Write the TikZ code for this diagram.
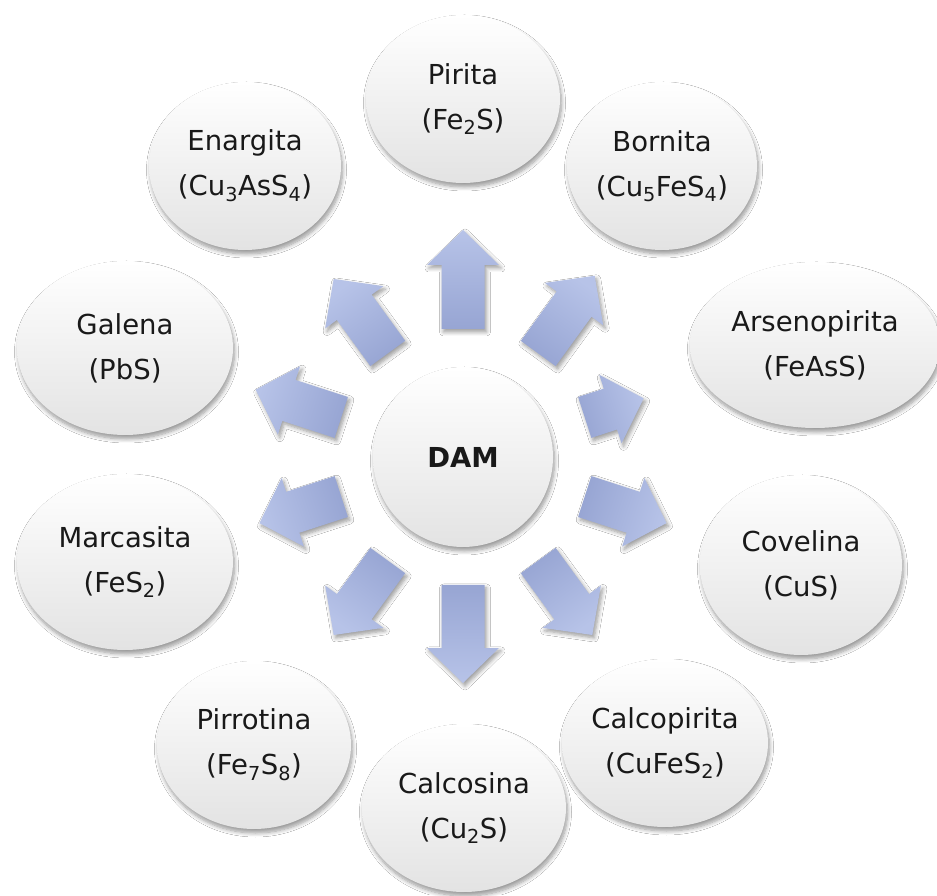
\documentclass[tikz,border=0pt]{standalone}
\usepackage{fontspec}
\setmainfont{DejaVu Sans}
\usetikzlibrary{shapes.geometric,shadows.blur,calc}
\definecolor{arrtop}{HTML}{B7C3E8}
\definecolor{arrbot}{HTML}{97A5D3}
\tikzset{
  x=1pt, y=1pt,
  mineral/.style={ellipse, inner sep=-14pt, align=center,
    font=\fontsize{27.5}{45}\selectfont, text=black!90,
    top color=white, middle color=white, bottom color=black!11,
    blur shadow={shadow xshift=1.5pt, shadow yshift=-4pt, shadow blur radius=4pt, shadow blur steps=8, shadow opacity=40}},
  arrowshape/.style={top color=arrtop, bottom color=arrbot,
    blur shadow={shadow xshift=2pt, shadow yshift=-3pt, shadow blur radius=4pt, shadow blur steps=6, shadow opacity=40}},
}
\begin{document}
\begin{tikzpicture}
\useasboundingbox (0,0) rectangle (937,895);
\fill[white] (0,0) rectangle (937,895);
% centre
\node[mineral, circle, minimum size=180pt, font=\fontsize{27.5}{33}\selectfont\bfseries] (dam) at (463,438) {DAM};
% outer minerals
\node[mineral, minimum width=194pt, minimum height=168pt] (pirita) at (463,796) {Pirita\\(Fe\textsubscript{2}S)};
\node[mineral, minimum width=190pt, minimum height=168pt] (bornita) at (662,729) {Bornita\\(Cu\textsubscript{5}FeS\textsubscript{4})};
\node[mineral, minimum width=250pt, minimum height=166pt] (arseno) at (815,550) {Arsenopirita\\(FeAsS)};
\node[mineral, minimum width=202pt, minimum height=180pt] (covelina) at (801,330) {Covelina\\(CuS)};
\node[mineral, minimum width=206pt, minimum height=168pt] (calcopirita) at (665,152) {Calcopirita\\(CuFeS\textsubscript{2})};
\node[mineral, minimum width=204pt, minimum height=168pt] (calcosina) at (464,87) {Calcosina\\(Cu\textsubscript{2}S)};
\node[mineral, minimum width=194pt, minimum height=168pt] (pirrotina) at (254,150) {Pirrotina\\(Fe\textsubscript{7}S\textsubscript{8})};
\node[mineral, minimum width=216pt, minimum height=176pt] (marcasita) at (125,333) {Marcasita\\(FeS\textsubscript{2})};
\node[mineral, minimum width=216pt, minimum height=174pt] (galena) at (125,547) {Galena\\(PbS)};
\node[mineral, minimum width=192pt, minimum height=168pt] (enargita) at (245,729) {Enargita\\(Cu\textsubscript{3}AsS\textsubscript{4})};
% diverging arrows: angle / tip distance from the centre
\foreach \a/\t in {90/227,54/224,18/190,-18/214,-54/220,-90/226,-126/220,-162/214,162/218,126/220}{
  \pgfmathsetmacro\sa{\a-90}
  \pgfmathsetmacro\hb{\t-35}
  \begin{scope}[shift={(dam.center)}, rotate=\sa]
    \shade[arrowshape, shading angle=\sa] (-21.5,128) -- (21.5,128) -- (21.5,\hb) -- (36,\hb) -- (0,\t) -- (-36,\hb) -- (-21.5,\hb) -- cycle;
  \end{scope}
}
\end{tikzpicture}
\end{document}
